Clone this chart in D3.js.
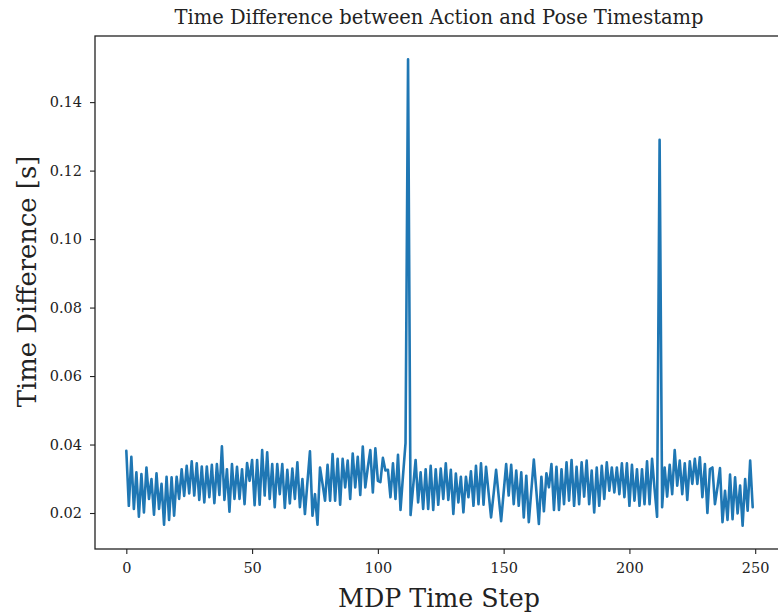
<!DOCTYPE html>
<html><head><meta charset="utf-8">
<script src="https://cdn.jsdelivr.net/npm/d3@7"></script>
<style>body{margin:0;background:#fff}svg{display:block}</style>
</head><body>
<script>
const titleText = "Time Difference between Action and Pose Timestamp";
const xLabel = "MDP Time Step";
const yLabel = "Time Difference [s]";
const xTicks = [0, 50, 100, 150, 200, 250];
const yTicks = [0.02, 0.04, 0.06, 0.08, 0.10, 0.12, 0.14];
const timeDiff = [
0.0382,0.0221,0.0364,0.0212,0.0319,0.0189,0.0314,0.0202,0.0333,0.0241,
0.0299,0.0195,0.0316,0.0212,0.0285,0.0166,0.0306,0.0180,0.0304,0.0192,
0.0306,0.0241,0.0328,0.0250,0.0338,0.0257,0.0351,0.0251,0.0345,0.0238,
0.0336,0.0231,0.0336,0.0246,0.0341,0.0229,0.0343,0.0253,0.0395,0.0238,
0.0328,0.0204,0.0343,0.0241,0.0335,0.0241,0.0328,0.0226,0.0346,0.0294,
0.0355,0.0223,0.0355,0.0224,0.0384,0.0251,0.0377,0.0241,0.0343,0.0217,
0.0343,0.0255,0.0343,0.0215,0.0326,0.0228,0.0330,0.0241,0.0348,0.0217,
0.0299,0.0197,0.0290,0.0380,0.0192,0.0255,0.0166,0.0333,0.0285,0.0236,
0.0341,0.0236,0.0372,0.0236,0.0358,0.0224,0.0358,0.0275,0.0353,0.0241,
0.0374,0.0275,0.0364,0.0253,0.0394,0.0275,0.0333,0.0384,0.0260,0.0389,
0.0294,0.0290,0.0361,0.0324,0.0326,0.0246,0.0345,0.0241,0.0370,0.0209,
0.0310,0.0405,0.1525,0.0194,0.0275,0.0355,0.0231,0.0319,0.0212,0.0328,
0.0212,0.0338,0.0209,0.0328,0.0224,0.0330,0.0241,0.0345,0.0238,0.0326,
0.0197,0.0315,0.0231,0.0306,0.0202,0.0306,0.0246,0.0322,0.0221,0.0338,
0.0226,0.0345,0.0224,0.0335,0.0260,0.0187,0.0255,0.0326,0.0251,0.0176,
0.0260,0.0343,0.0251,0.0341,0.0226,0.0324,0.0221,0.0319,0.0187,0.0309,
0.0173,0.0265,0.0356,0.0265,0.0168,0.0306,0.0205,0.0316,0.0275,0.0343,
0.0209,0.0335,0.0209,0.0328,0.0226,0.0348,0.0236,0.0355,0.0221,0.0335,
0.0226,0.0348,0.0248,0.0353,0.0226,0.0324,0.0202,0.0333,0.0221,0.0338,
0.0241,0.0348,0.0265,0.0333,0.0260,0.0333,0.0255,0.0345,0.0246,0.0345,
0.0221,0.0341,0.0236,0.0328,0.0221,0.0328,0.0226,0.0351,0.0226,0.0358,
0.0270,0.0189,0.1290,0.0217,0.0333,0.0248,0.0341,0.0255,0.0384,0.0280,
0.0353,0.0255,0.0345,0.0238,0.0351,0.0285,0.0358,0.0285,0.0363,0.0246,
0.0343,0.0200,0.0328,0.0333,0.0226,0.0275,0.0331,0.0173,0.0265,0.0180,
0.0312,0.0182,0.0304,0.0199,0.0280,0.0163,0.0299,0.0207,0.0353,0.0217
];

const W = 778, H = 612;
const L = 95, R = 784, T = 36, B = 549;
const font = "'DejaVu Serif','Liberation Serif',serif";
const svg = d3.select("body").append("svg").attr("width", W).attr("height", H);

const n = timeDiff.length;
const xPad = (n - 1) * 0.05;
const x = d3.scaleLinear().domain([-xPad, n - 1 + xPad]).range([L, R]);
const ymin = d3.min(timeDiff), ymax = d3.max(timeDiff);
const yPad = (ymax - ymin) * 0.05;
const y = d3.scaleLinear().domain([ymin - yPad, ymax + yPad]).range([B, T]);

svg.append("path").datum(timeDiff)
  .attr("fill", "none").attr("stroke", "#1f77b4").attr("stroke-width", 2.6)
  .attr("stroke-linejoin", "round").attr("stroke-linecap", "round")
  .attr("d", d3.line().x((d, i) => x(i)).y(d => y(d)));

const xAxis = svg.append("g").attr("transform", `translate(0,${B})`)
  .call(d3.axisBottom(x).tickValues(xTicks).tickSize(5).tickPadding(9).tickFormat(d3.format("d")));
const yAxis = svg.append("g").attr("transform", `translate(${L},0)`)
  .call(d3.axisLeft(y).tickValues(yTicks).tickSize(5).tickPadding(8).tickFormat(d3.format(".2f")));
[xAxis, yAxis].forEach(g => {
  g.select(".domain").remove();
  g.selectAll(".tick line").attr("stroke", "#222").attr("stroke-width", 1.1);
  g.selectAll(".tick text").attr("font-family", font).attr("font-size", 14.5).attr("fill", "#222");
});

svg.append("rect").attr("x", L).attr("y", T).attr("width", R - L).attr("height", B - T)
  .attr("fill", "none").attr("stroke", "#222").attr("stroke-width", 1.3);

svg.append("text").attr("x", 439).attr("y", 24).attr("text-anchor", "middle")
  .attr("font-family", font).attr("font-size", 19.5).attr("fill", "#222").text(titleText);
svg.append("text").attr("x", 439).attr("y", 607).attr("text-anchor", "middle")
  .attr("font-family", font).attr("font-size", 25.3).attr("fill", "#222").text(xLabel);
svg.append("text").attr("transform", `translate(36,${(T + B) / 2 - 11}) rotate(-90)`).attr("text-anchor", "middle")
  .attr("font-family", font).attr("font-size", 25.8).attr("fill", "#222").text(yLabel);
</script>
</body></html>
